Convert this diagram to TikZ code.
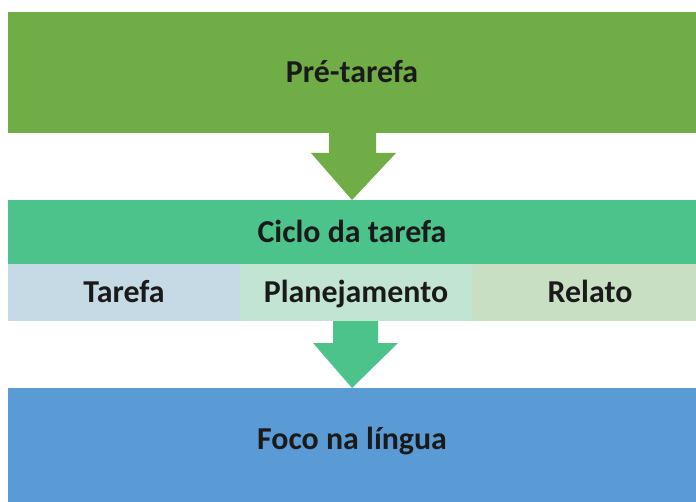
\documentclass[tikz,border=0pt]{standalone}
\usepackage{fontspec}
\setmainfont{Carlito}
\usetikzlibrary{calc}

\definecolor{preGreen}{HTML}{70AD47}
\definecolor{cicloGreen}{HTML}{4CC38A}
\definecolor{tarefaBlue}{HTML}{C5DAE4}
\definecolor{planGreen}{HTML}{C2E5D3}
\definecolor{relatoGreen}{HTML}{C9DFC4}
\definecolor{focoBlue}{HTML}{5B9BD5}
\definecolor{textDark}{HTML}{1A1A1A}

\tikzset{
    phase/.style={rectangle, anchor=north west, inner sep=0pt, outer sep=0pt,
                  text height=20bp, text depth=0pt,
                  font=\fontsize{32}{38}\selectfont\bfseries, text=textDark},
}

\begin{document}
\begin{tikzpicture}[x=1bp, y=-1bp]
        \useasboundingbox (0,0) rectangle (696,502);
        \fill[white] (0,0) rectangle (696,502);

        \node (pre)    at (  8, 12) [phase, fill=preGreen,    minimum width=688bp, minimum height=121bp] {Pré-tarefa};
        \node (ciclo)  at (  8,200) [phase, fill=cicloGreen,  minimum width=688bp, minimum height=64bp] {Ciclo da tarefa};
        \node (tarefa) at (  8,264) [phase, fill=tarefaBlue,  minimum width=232bp, minimum height=57bp] {Tarefa};
        \node (plan)   at (240,264) [phase, fill=planGreen,   minimum width=232bp, minimum height=57bp] {Planejamento};
        \node (relato) at (472,264) [phase, fill=relatoGreen, minimum width=236bp, minimum height=57bp] {Relato};
        \node (foco)   at (  8,388) [phase, fill=focoBlue,    minimum width=688bp, minimum height=102bp] {Foco na língua};
        \fill[focoBlue] (foco.south west) rectangle (696,502);

        % pre -> ciclo
        \fill[preGreen] ($(pre.south)+(-23,0)$) -- ($(pre.south)+(24,0)$) -- ($(pre.south)+(24,20)$)
            -- ($(pre.south)+(44,20)$) -- (ciclo.north) -- ($(pre.south)+(-41,20)$)
            -- ($(pre.south)+(-23,20)$) -- cycle;
        % plan -> foco
        \fill[cicloGreen] ($(plan.south)+(-23,0)$) -- ($(plan.south)+(22,0)$) -- ($(plan.south)+(22,22)$)
            -- ($(plan.south)+(42,22)$) -- (foco.north) -- ($(plan.south)+(-43,22)$)
            -- ($(plan.south)+(-23,22)$) -- cycle;
\end{tikzpicture}
\end{document}
